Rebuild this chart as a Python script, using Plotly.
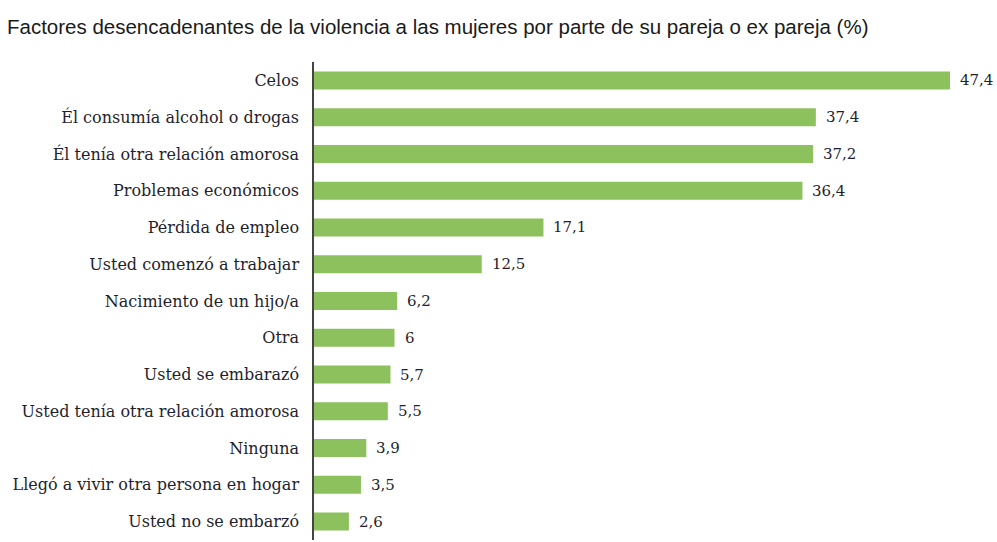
import plotly.graph_objects as go

# datos del grafico (%)
categorias = [
    "Celos",
    "Él consumía alcohol o drogas",
    "Él tenía otra relación amorosa",
    "Problemas económicos",
    "Pérdida de empleo",
    "Usted comenzó a trabajar",
    "Nacimiento de un hijo/a",
    "Otra",
    "Usted se embarazó",
    "Usted tenía otra relación amorosa",
    "Ninguna",
    "Llegó a vivir otra persona en hogar",
    "Usted no se embarzó",
]
valores = [47.4, 37.4, 37.2, 36.4, 17.1, 12.5, 6.2, 6, 5.7, 5.5, 3.9, 3.5, 2.6]
etiquetas = ["47,4", "37,4", "37,2", "36,4", "17,1", "12,5", "6,2", "6", "5,7", "5,5", "3,9", "3,5", "2,6"]

verde = "#8cc15d"
texto = "#1f1f2e"
serif = "DejaVu Serif, serif"

fig = go.Figure()
fig.add_trace(
    go.Bar(
        x=valores,
        y=categorias,
        orientation="h",
        marker={"color": verde, "line": {"width": 0}},
        hoverinfo="skip",
    )
)

for cat, val, lab in zip(categorias, valores, etiquetas):
    fig.add_annotation(
        x=val,
        y=cat,
        text=lab,
        showarrow=False,
        xanchor="left",
        xshift=8,
        font={"family": serif, "size": 15, "color": texto},
    )

fig.update_layout(
    width=997,
    height=542,
    margin={"l": 314, "r": 0, "t": 62, "b": 2, "autoexpand": False},
    paper_bgcolor="white",
    plot_bgcolor="white",
    bargap=0.51,
    showlegend=False,
    title={
        "text": "Factores desencadenantes de la violencia a las mujeres por parte de su pareja o ex pareja (%)",
        "x": 0.007,
        "xanchor": "left",
        "y": 0.95,
        "yanchor": "middle",
        "font": {"family": "Liberation Sans, Arial, sans-serif", "size": 20.5, "color": "#1a1a1a"},
    },
)
fig.update_xaxes(range=[0, 50.9], visible=False, fixedrange=True, automargin=False)
fig.update_yaxes(
    autorange="reversed",
    range=None,
    showline=True,
    linecolor="#444",
    linewidth=1.5,
    showgrid=False,
    ticks="",
    ticklabelstandoff=10,
    automargin=False,
    tickfont={"family": serif, "size": 16, "color": texto},
    fixedrange=True,
)

# quitar el margen del body para que la figura empiece en (0, 0)
fig.write_html(
    "out.html",
    config={"displayModeBar": False},
    post_script="document.body.style.margin='0';",
)
